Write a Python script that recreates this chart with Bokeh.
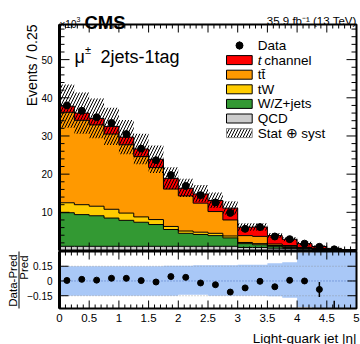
import numpy as np
from bokeh.plotting import figure
from bokeh.models import Range1d
from bokeh.core.properties import value
from bokeh.embed import file_html
from bokeh.resources import INLINE

# ---------------------------------------------------------------------------
# Light-quark jet |eta| binning (bin width 0.25)
eta_edges = [0.0, 0.25, 0.5, 0.75, 1.0, 1.25, 1.5, 1.75, 2.0, 2.25, 2.5,
             2.75, 3.0, 3.25, 3.5, 3.75, 4.0, 4.25, 4.5, 4.75, 5.0]

# Predicted yields per bin (x 10^3 events), bottom to top of the stack
qcd = [1.1, 1.1, 1.1, 1.1, 1.1, 1.1, 1.1, 1.1, 1.1, 1.1, 1.1, 1.1,
       0.8, 0.8, 0.6, 0.5, 0.35, 0.25, 0.12, 0.05]
wz_jets = [8.8, 8.3, 8.0, 7.4, 6.8, 6.3, 5.7, 4.4, 3.4, 3.1, 2.8, 2.2,
           1.0, 0.7, 0.5, 0.3, 0.2, 0.1, 0.06, 0.02]
tw = [2.6, 2.6, 2.5, 2.3, 1.9, 1.4, 1.3, 0.8, 0.6, 0.6, 0.6, 0.5,
      0.3, 0.3, 0.2, 0.2, 0.1, 0.05, 0.02, 0.01]
ttbar = [23.7, 22.1, 21.3, 19.7, 17.9, 15.8, 13.6, 9.8, 9.2, 7.6, 5.7, 4.2,
         1.8, 1.9, 0.4, 0.3, 0.15, 0.1, 0.05, 0.02]
t_channel = [1.6, 1.9, 1.7, 2.0, 2.0, 2.0, 2.2, 2.8, 2.0, 2.4, 2.9, 3.1,
             2.2, 2.45, 2.2, 1.65, 1.0, 0.55, 0.25, 0.1]

# Observed events (x 10^3) and their uncertainties
data = [38.0, 36.6, 34.9, 33.4, 30.5, 26.7, 23.65, 19.75, 16.9, 14.5, 12.6,
        9.85, 5.67, 6.13, 3.67, 2.97, 1.8, 0.96, 0.3, np.nan]
data_err = [0.2, 0.2, 0.2, 0.2, 0.2, 0.17, 0.16, 0.15, 0.14, 0.13, 0.12,
            0.11, 0.08, 0.08, 0.07, 0.06, 0.05, 0.08, 0.1, np.nan]

# Relative stat (+) syst uncertainty on the prediction
unc_up = [0.15, 0.15, 0.15, 0.15, 0.15, 0.15, 0.15, 0.155, 0.155, 0.16,
          0.16, 0.16, 0.165, 0.165, 0.18, 0.19, 0.29, 0.4, 0.4, 0.4]
unc_down = [0.15, 0.15, 0.15, 0.15, 0.15, 0.15, 0.15, 0.15, 0.14, 0.14,
            0.15, 0.15, 0.15, 0.15, 0.155, 0.17, 0.265, 0.4, 0.4, 0.4]

x_tick_values = [0, 0.5, 1, 1.5, 2, 2.5, 3, 3.5, 4, 4.5, 5]
x_tick_labels = ["0", "0.5", "1", "1.5", "2", "2.5", "3", "3.5", "4", "4.5", "5"]
y_tick_values = [10, 20, 30, 40, 50]
y_tick_labels = ["10", "20", "30", "40", "50"]
ratio_tick_values = [-0.15, 0, 0.15]
ratio_tick_labels = ["\u22120.15", "0", "0.15"]

colors = {"QCD": "#cccccc", "W/Z+jets": "#339933", "tW": "#ffcc00",
          "ttbar": "#ff9900", "t channel": "#ff0000"}

FONT = "Liberation Sans"
W, H = 360, 344
YMAX = 59.2            # upper panel y range is 0 .. YMAX
RMIN, RMAX = -0.28, 0.30   # ratio panel y range

# Panel frames in canvas pixels
FX0, FX1 = 59.0, 356.0
MAIN_TOP, MAIN_BOT = 24.0, 250.0
RAT_TOP, RAT_BOT = 251.0, 308.0

PX_X = 5.0 / (FX1 - FX0)
PX_Y = YMAX / (MAIN_BOT - MAIN_TOP)
PX_R = (RMAX - RMIN) / (RAT_BOT - RAT_TOP)


def px2x(px):
    return (px - FX0) * PX_X


def py2y(py):
    return (MAIN_BOT - py) * PX_Y


def py2r(py):
    return RMAX - (py - RAT_TOP) * PX_R


# ---------------------------------------------------------------------------
edges = np.array(eta_edges)
left, right = edges[:-1], edges[1:]
centers = 0.5 * (left + right)
data_a = np.array(data)
derr_a = np.array(data_err)
unc_up_a = np.array(unc_up)
unc_dn_a = np.array(unc_down)


def stepped(vals):
    return np.append(vals, vals[-1])


p = figure(width=W, height=H, x_range=Range1d(px2x(0), px2x(W)),
           y_range=Range1d(py2y(H), py2y(0)),
           output_backend="svg", toolbar_location=None,
           x_axis_location=None, y_axis_location=None,
           min_border=0, min_border_left=0, min_border_right=0,
           min_border_top=0, min_border_bottom=0)
p.extra_y_ranges = {"ratio": Range1d(py2r(H), py2r(0))}
p.xgrid.visible = False
p.ygrid.visible = False
p.outline_line_color = None
p.background_fill_color = "white"
p.border_fill_color = "white"


def text(x, y, t, size, align="left", baseline="alphabetic", style="normal",
         angle=0.0, rng="default", color="black"):
    p.text(x=[x], y=[y], text=[t], text_font=value(FONT), text_font_size=value(size),
           text_align=align, text_baseline=baseline, text_font_style=style,
           angle=angle, text_color=color, y_range_name=rng)


# ---------------------------------------------------------------------------
# Upper panel: stacked prediction
stack = [("QCD", qcd), ("W/Z+jets", wz_jets), ("tW", tw),
         ("ttbar", ttbar), ("t channel", t_channel)]
bottom = np.zeros(len(centers))
tops = []
for name, vals in stack:
    top = bottom + np.array(vals)
    p.varea_step(x=edges, y1=stepped(bottom), y2=stepped(top), step_mode="after",
                 fill_color=colors[name])
    tops.append(top)
    bottom = top
total = bottom

for top in tops:
    p.step(x=edges, y=stepped(top), mode="after", line_color="black", line_width=1)

# stat (+) syst band
p.varea_step(x=edges, y1=stepped(total * (1 - unc_dn_a)),
             y2=stepped(total * (1 + unc_up_a)), step_mode="after",
             fill_alpha=0, hatch_pattern="/", hatch_color="black",
             hatch_weight=1, hatch_scale=6)

# data points
ok = np.isfinite(data_a)
p.segment(x0=centers[ok], x1=centers[ok], y0=(data_a - derr_a)[ok],
          y1=(data_a + derr_a)[ok], line_color="black", line_width=1.5)
p.scatter(x=centers[ok], y=data_a[ok], size=7, color="black")

# frame and ticks of the upper panel
p.quad(left=[0], right=[5], bottom=[0], top=[YMAX], fill_alpha=0,
       line_color="black", line_width=2)
p.segment(x0=[0], x1=[0], y0=[0], y1=[YMAX], line_color="black", line_width=3)

y_minor = [v for v in range(2, 59, 2) if v not in y_tick_values]
x_minor = [round(0.1 * i, 1) for i in range(1, 50) if i % 5 != 0]
x_major = [v for v in x_tick_values if 0 < v < 5]

for ticks, ln in ((y_tick_values, 10), (y_minor, 5)):
    p.segment(x0=[0] * len(ticks), x1=[ln * PX_X] * len(ticks), y0=ticks, y1=ticks,
              line_color="black", line_width=1)
    p.segment(x0=[5] * len(ticks), x1=[5 - ln * PX_X] * len(ticks), y0=ticks,
              y1=ticks, line_color="black", line_width=1)
for ticks, ln in ((x_major, 8), (x_minor, 4)):
    p.segment(x0=ticks, x1=ticks, y0=[0] * len(ticks), y1=[ln * PX_Y] * len(ticks),
              line_color="black", line_width=1)
    p.segment(x0=ticks, x1=ticks, y0=[YMAX] * len(ticks),
              y1=[YMAX - ln * PX_Y] * len(ticks), line_color="black", line_width=1)

p.text(x=[px2x(52)] * len(y_tick_values), y=y_tick_values, text=y_tick_labels,
       text_font=value(FONT), text_font_size=value("10px"), text_align="right",
       text_baseline="middle", text_color="black")

# titles and headers
text(px2x(31.5), py2y(MAIN_TOP), "Events / 0.25", "14px", align="right",
     baseline="middle", angle=np.pi / 2)
text(px2x(84), py2y(21.5), "CMS", "18.5px", style="bold")
text(px2x(59), py2y(23.5), "\u00d710", "10px")
text(px2x(76), py2y(19), "3", "7px")
text(px2x(356), py2y(20.5), "35.9 fb\u207b\u00b9 (13 TeV)", "11.5px", align="right")
text(px2x(74), py2y(56.5), "\u03bc", "18px")
text(px2x(84.5), py2y(49), "\u00b1", "11px")
text(px2x(100), py2y(56.5), "2jets-1tag", "18px")

# legend
rows = [45.0 + 14.6 * k for k in range(7)]
bx0, bx1, tx = 226.0, 251.7, 257.3
p.segment(x0=[px2x(239)], x1=[px2x(239)], y0=[py2y(rows[0] + 4)],
          y1=[py2y(rows[0] - 4)], line_color="black", line_width=1.5)
p.scatter(x=[px2x(239)], y=[py2y(rows[0])], size=7, color="black")
text(px2x(tx), py2y(rows[0]), "Data", "13.5px", baseline="middle")
for k, name in enumerate(["t channel", "ttbar", "tW", "W/Z+jets", "QCD"], start=1):
    p.quad(left=[px2x(bx0)], right=[px2x(bx1)], top=[py2y(rows[k] - 4.5)],
           bottom=[py2y(rows[k] + 4.5)], fill_color=colors[name],
           line_color="black", line_width=1)
p.quad(left=[px2x(bx0)], right=[px2x(bx1)], top=[py2y(rows[6] - 4.5)],
       bottom=[py2y(rows[6] + 4.5)], fill_color="white", line_color="#888888",
       line_width=1, hatch_pattern="/", hatch_color="black", hatch_weight=1,
       hatch_scale=6)
text(px2x(tx), py2y(rows[1]), "t", "13.5px", baseline="middle", style="italic")
text(px2x(tx + 6.5), py2y(rows[1]), "channel", "13.5px", baseline="middle")
text(px2x(tx), py2y(rows[2]), "tt\u0304", "13.5px", baseline="middle")
text(px2x(tx), py2y(rows[3]), "tW", "13.5px", baseline="middle")
text(px2x(tx), py2y(rows[4]), "W/Z+jets", "13.5px", baseline="middle")
text(px2x(tx), py2y(rows[5]), "QCD", "13.5px", baseline="middle")
text(px2x(tx), py2y(rows[6]), "Stat \u2295 syst", "13.5px", baseline="middle")

# ---------------------------------------------------------------------------
# Lower panel: (data - prediction) / prediction
p.varea_step(x=edges, y1=stepped(np.clip(-unc_dn_a, RMIN, RMAX)),
             y2=stepped(np.clip(unc_up_a, RMIN, RMAX)), step_mode="after",
             fill_color="#a9c8f7", y_range_name="ratio")
for lvl in (-0.15, 0.15):
    p.line(x=[0, 5], y=[lvl, lvl], line_color="#888888", line_alpha=0.7,
           line_dash="1 2", line_width=1, y_range_name="ratio")
p.line(x=[0, 5], y=[0, 0], line_color="#4a6fc0", line_dash="1 2", line_width=1,
       y_range_name="ratio")

ratio = data_a / total - 1
rerr = derr_a / total
lo = np.clip(ratio - rerr, RMIN, RMAX)
hi = np.clip(ratio + rerr, RMIN, RMAX)
seg_ok = ok & (hi > RMIN)
p.segment(x0=centers[seg_ok], x1=centers[seg_ok], y0=lo[seg_ok], y1=hi[seg_ok],
          line_color="black", line_width=1.5, y_range_name="ratio")
pt_ok = ok & (ratio > RMIN) & (ratio < RMAX)
p.scatter(x=centers[pt_ok], y=ratio[pt_ok], size=6, color="black",
          y_range_name="ratio")

# frame and ticks of the ratio panel
p.quad(left=[0], right=[5], bottom=[RMIN], top=[RMAX], fill_alpha=0,
       line_color="black", line_width=2, y_range_name="ratio")
p.segment(x0=[0], x1=[0], y0=[RMIN], y1=[RMAX], line_color="black", line_width=3,
          y_range_name="ratio")
nt = len(ratio_tick_values)
p.segment(x0=[0] * nt, x1=[9 * PX_X] * nt, y0=ratio_tick_values,
          y1=ratio_tick_values, line_color="black", line_width=1, y_range_name="ratio")
p.segment(x0=[5] * nt, x1=[5 - 9 * PX_X] * nt, y0=ratio_tick_values,
          y1=ratio_tick_values, line_color="black", line_width=1, y_range_name="ratio")
for ticks, ln in ((x_major, 8), (x_minor, 4)):
    p.segment(x0=ticks, x1=ticks, y0=[RMIN] * len(ticks),
              y1=[RMIN + ln * PX_R] * len(ticks), line_color="black", line_width=1,
              y_range_name="ratio")
    p.segment(x0=ticks, x1=ticks, y0=[RMAX] * len(ticks),
              y1=[RMAX - ln * PX_R] * len(ticks), line_color="black", line_width=1,
              y_range_name="ratio")

p.text(x=[px2x(52)] * nt, y=ratio_tick_values, text=ratio_tick_labels,
       text_font=value(FONT), text_font_size=value("10px"), text_align="right",
       text_baseline="middle", text_color="black", y_range_name="ratio")
p.text(x=x_tick_values, y=[py2r(317)] * len(x_tick_values), text=x_tick_labels,
       text_font=value(FONT), text_font_size=value("11.5px"), text_align="center",
       text_baseline="middle", text_color="black", y_range_name="ratio")

text(5, py2r(337.5), "Light-quark jet |\u03b7|", "13.5px", align="right", rng="ratio")
text(px2x(12.5), py2r(280), "Data-Pred", "11.5px", align="center",
     baseline="middle", angle=np.pi / 2, rng="ratio")
p.segment(x0=[px2x(18.5)], x1=[px2x(18.5)], y0=[RMAX], y1=[RMIN],
          line_color="black", line_width=1, y_range_name="ratio")
text(px2x(23.5), py2r(267), "Pred", "11.5px", align="center", baseline="middle",
     angle=np.pi / 2, rng="ratio")

open("out.html", "w").write(file_html(p, INLINE))
